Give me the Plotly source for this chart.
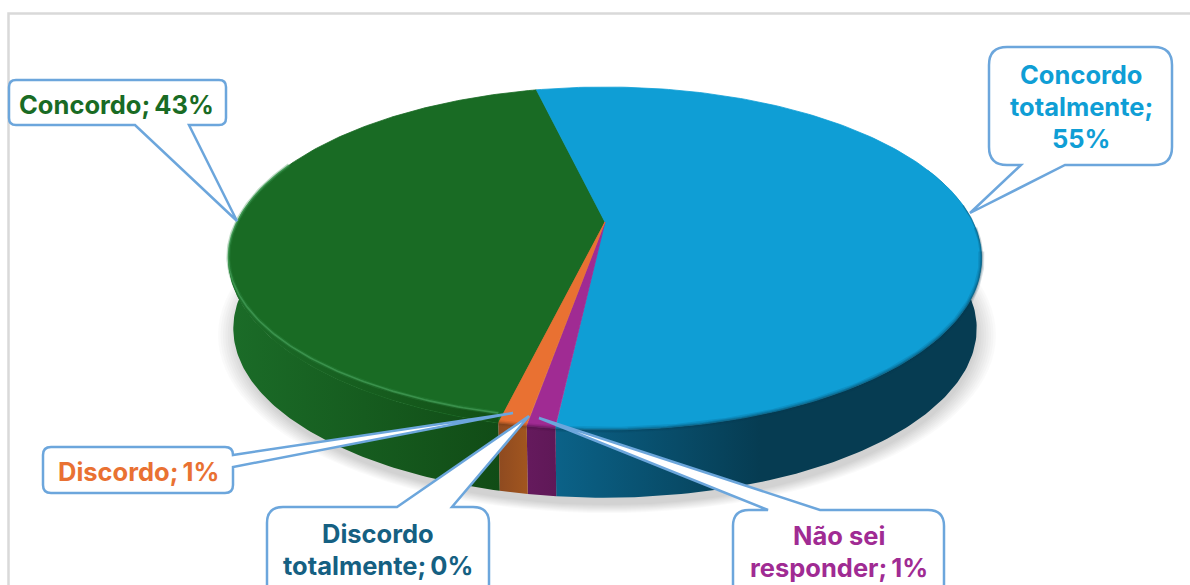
import numpy as np
import plotly.graph_objects as go

# Data (clockwise from the pie's first-slice angle)
categories = ["Concordo totalmente", "Não sei responder", "Discordo totalmente", "Discordo", "Concordo"]
shares = [55.3, 1.0, 0.0, 1.0, 42.7]
percent_labels = ["55%", "1%", "0%", "1%", "43%"]
top_colors = ["#0F9ED5", "#A02B93", "#156082", "#E97132", "#196B24"]
side_left = ["#0B6288", "#651A5D", "#0F4761", "#8E4A20", "#1B6C28"]
side_right = ["#063C52", "#5F1857", "#0F4761", "#A2561F", "#114C16"]
first_angle = -13.0

# Pie projection (pixel axes)
CX, APEX_Y, SX, SY, K = 605.0, 222.0, 368.0, 163.7, 0.2126
DEPTH, BOTTOM_SCALE = 70.5, 0.987


def project(theta_deg, scale=1.0, dy=0.0):
    t = np.radians(theta_deg)
    X, Y = np.sin(t), np.cos(t)
    d = 1 + K * Y
    return CX + scale * SX * X / d, APEX_Y + dy - scale * SY * Y / d


def rim_inset(theta_deg):
    return 10.0 * np.clip(-np.cos(np.radians(theta_deg)), 0, 1)


fig = go.Figure()
bounds = first_angle + np.concatenate([[0], np.cumsum(shares)]) * 3.6

# side walls first, then top faces
draw_order = [4, 0, 1, 3]
for i in draw_order:
    a, b = bounds[i], bounds[i + 1]
    lo = max(a, 70) if i == 0 else a
    hi = min(b, 292) if i == 4 else b
    th = np.linspace(lo, hi, 120)
    x1, y1 = project(th)
    x2, y2 = project(th[::-1], BOTTOM_SCALE, DEPTH)
    xs = np.concatenate([x1, x2, x1[:1]])
    ys = np.concatenate([y1, y2, y1[:1]])
    start, stop = float(xs.min()), float(xs.max())
    if i == 0:
        stop = 760.0
    fig.add_trace(go.Scatter(
        x=xs, y=ys, mode="lines", line=dict(width=0, color="rgba(0,0,0,0)"),
        fill="toself",
        fillgradient=dict(type="horizontal", start=start, stop=stop,
                          colorscale=[[0, side_left[i]], [1, side_right[i]]]),
        hoverinfo="skip", showlegend=False))

for i in [4, 0, 1, 3]:
    a, b = bounds[i], bounds[i + 1]
    th = np.linspace(a, b, 200)
    x, y = project(th)
    xs = np.concatenate([[CX], x, [CX]])
    ys = np.concatenate([[APEX_Y], y, [APEX_Y]])
    fig.add_trace(go.Scatter(
        x=xs, y=ys, mode="lines", line=dict(width=0.8, color=top_colors[i]),
        fill="toself", fillcolor=top_colors[i], name=categories[i],
        text=f"{categories[i]}; {percent_labels[i]}", hoverinfo="text", showlegend=False))

# soft dark bevel on the rim of blue, purple and orange
rim_shades = [(0, "6,60,82", (100, 92, 84)), (1, "70,15,65", None), (3, "110,55,20", None)]
for i, shade, starts in rim_shades:
    a, b = bounds[i], bounds[i + 1]
    for k, (w, op) in enumerate(((6, 0.14), (3.5, 0.2), (1.5, 0.3))):
        th = np.linspace(a if starts is None else starts[k], b, 150)
        x, y = project(th)
        fig.add_trace(go.Scatter(x=x, y=y, mode="lines",
                                 line=dict(width=w, color=f"rgba({shade},{op})"),
                                 hoverinfo="skip", showlegend=False))

# green rim: band below a light highlight line
a, b = bounds[4], 292.0
th = np.linspace(a, b, 150)
xo, yo = project(th)
xi, yi = project(th, 1.0, 0.0)
yi = yi - rim_inset(th)
fig.add_trace(go.Scatter(
    x=np.concatenate([xo, xi[::-1]]), y=np.concatenate([yo, yi[::-1]]),
    mode="lines", line=dict(width=0, color="rgba(0,0,0,0)"), fill="toself",
    fillgradient=dict(type="horizontal", start=230, stop=500,
                      colorscale=[[0, "#1B6C28"], [1, "#125016"]]),
    hoverinfo="skip", showlegend=False))
fig.add_trace(go.Scatter(x=xi, y=yi, mode="lines", line=dict(width=4, color="rgba(50,140,70,0.30)"),
                         hoverinfo="skip", showlegend=False))
fig.add_trace(go.Scatter(x=xi, y=yi, mode="lines", line=dict(width=1.6, color="rgba(70,160,90,0.70)"),
                         hoverinfo="skip", showlegend=False))

shapes = []
# soft shadow
for n in range(9):
    rx, ry = 389 - n * 2.4, 178 - n * 1.0
    shapes.append(dict(type="circle", xref="x", yref="y", layer="below",
                       x0=607 - rx, x1=607 + rx, y0=335 - ry, y1=335 + ry,
                       fillcolor="rgba(0,0,0,0.02)", line=dict(width=0)))
# frame
shapes.append(dict(type="path", xref="x", yref="y", layer="below",
                   path="M 8.5 600 L 8.5 13.5 L 1200 13.5",
                   line=dict(color="#D9D9D9", width=2.5)))


def callout(x0, y0, x1, y1, r, side, p, q, tip):
    """Rounded rectangle with a wedge on one side, as an SVG path."""
    d = [f"M {x0 + r} {y0}"]
    if side == "top":
        d += [f"L {p} {y0}", f"L {tip[0]} {tip[1]}", f"L {q} {y0}"]
    d += [f"L {x1 - r} {y0}", f"Q {x1} {y0} {x1} {y0 + r}"]
    if side == "right":
        d += [f"L {x1} {p}", f"L {tip[0]} {tip[1]}", f"L {x1} {q}"]
    d += [f"L {x1} {y1 - r}", f"Q {x1} {y1} {x1 - r} {y1}"]
    if side == "bottom":
        d += [f"L {q} {y1}", f"L {tip[0]} {tip[1]}", f"L {p} {y1}"]
    d += [f"L {x0 + r} {y1}", f"Q {x0} {y1} {x0} {y1 - r}",
          f"L {x0} {y0 + r}", f"Q {x0} {y0} {x0 + r} {y0}", "Z"]
    return " ".join(d)


boxes = [
    (989, 47, 1172, 165, 18, "bottom", 1021, 1065, (970, 213)),
    (733, 510, 944, 600, 16, "top", 768, 820, (539, 418)),
    (267, 507, 489, 600, 16, "top", 397, 452, (529, 416)),
    (43, 447, 233, 493, 8, "right", 455, 467, (513, 413)),
    (9, 80, 226, 125, 7, "bottom", 135, 189, (237, 221)),
]
for b in boxes:
    shapes.append(dict(type="path", xref="x", yref="y", layer="above",
                       path=callout(*b), fillcolor="white",
                       line=dict(color="#6CA6DC", width=2.5)))

THIN = "\u2009"
label_lines = [
    ["Concordo", "totalmente;", percent_labels[0]],
    ["Não sei", "responder;" + THIN + percent_labels[1]],
    ["Discordo", "totalmente;" + THIN + percent_labels[2]],
    ["Discordo;" + THIN + percent_labels[3]],
    ["Concordo;" + THIN + percent_labels[4]],
]
label_x = [1081, 839, 378, 138, 116]
label_y = [[74, 106, 138], [535, 567], [533, 565], [471], [104]]
annotations = []
for i, lines in enumerate(label_lines):
    for line, py in zip(lines, label_y[i]):
        annotations.append(dict(x=label_x[i], y=py, xref="x", yref="y", text=f"<b>{line}</b>", showarrow=False,
                                align="center", xanchor="center", yanchor="middle",
                                font=dict(family="Inter, Open Sans, sans-serif", size=25.5, color=top_colors[i])))

fig.update_layout(
    width=1190, height=585, autosize=False,
    margin=dict(l=0, r=0, t=0, b=0),
    paper_bgcolor="white", plot_bgcolor="white",
    xaxis=dict(range=[0, 1190], visible=False, fixedrange=True),
    yaxis=dict(range=[585, 0], visible=False, fixedrange=True),
    shapes=shapes, annotations=annotations, showlegend=False,
)
fig.write_html("out.html", config=dict(displayModeBar=False))

# remove the browser's default page margin so pixel axes line up with the window
with open("out.html", encoding="utf-8") as fh:
    page = fh.read()
page = page.replace("<body>", '<body style="margin:0;overflow:hidden">', 1)
with open("out.html", "w", encoding="utf-8") as fh:
    fh.write(page)
